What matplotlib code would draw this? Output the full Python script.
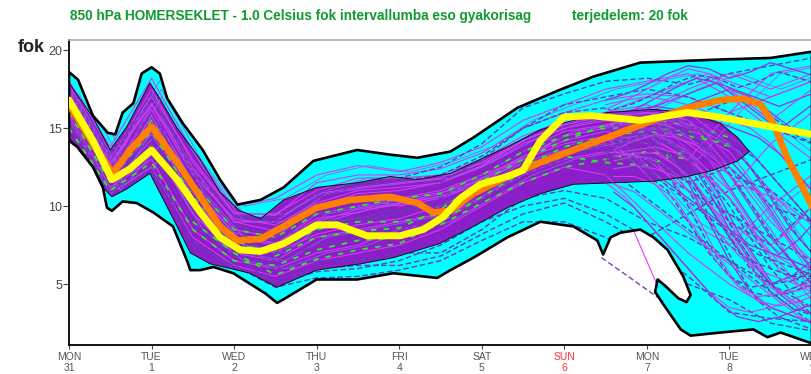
import numpy as np
import matplotlib
matplotlib.use("Agg")
import matplotlib.pyplot as plt
from matplotlib.patches import Polygon

# --- ensemble envelope (outer range of all members) ---
env_upper_day = [0.0, 0.11, 0.29, 0.47, 0.56, 0.65, 0.78, 0.88, 1.0, 1.1, 1.19, 1.38, 1.62,
                 1.83, 2.04, 2.32, 2.6, 2.96, 3.49, 3.89, 4.22, 4.62, 4.9, 5.43, 5.92,
                 6.35, 6.92, 7.89, 8.5, 9.0]
env_upper_val = [18.6, 18.1, 15.8, 14.7, 14.6, 16.0, 16.6, 18.5, 18.9, 18.5, 16.9, 15.3, 13.6,
                 11.7, 10.1, 10.4, 11.2, 12.9, 13.6, 13.3, 13.1, 13.5, 14.4, 16.3, 17.4,
                 18.3, 19.2, 19.4, 19.5, 19.9]
env_lower_day = [0.0, 0.1, 0.29, 0.41, 0.46, 0.52, 0.65, 0.82, 1.02, 1.26, 1.43, 1.47, 1.59,
                 1.75, 1.99, 2.23, 2.38, 2.52, 2.59, 3.0, 3.49, 3.93, 4.46, 4.62, 4.9,
                 5.31, 5.71, 6.11, 6.4, 6.47, 6.56, 6.68, 6.92, 7.08, 7.25, 7.44, 7.53,
                 7.48, 7.38, 7.22, 7.13, 7.1, 7.2, 7.41, 7.53, 7.89, 8.29, 8.46, 8.62, 9.0]
env_lower_val = [14.2, 13.8, 12.5, 11.2, 9.9, 9.7, 10.3, 10.2, 9.6, 8.7, 6.5, 5.9, 5.9,
                 6.1, 5.7, 4.9, 4.4, 3.8, 4.0, 5.3, 5.3, 5.7, 5.4, 5.9, 6.7,
                 8.0, 9.0, 8.7, 7.8, 6.9, 8.0, 8.3, 8.5, 8.0, 7.2, 5.5, 4.3,
                 3.85, 4.1, 4.9, 5.3, 4.5, 3.7, 2.1, 1.7, 1.9, 2.1, 1.6, 1.9, 1.2]

# --- dense core of the ensemble ---
core_upper_day = [0.0, 0.29, 0.5, 0.7, 0.98, 1.1, 1.31, 1.59, 1.83, 2.07, 2.32, 2.6, 3.0,
                  3.49, 3.89, 4.22, 4.62, 4.9, 5.31, 5.71, 6.11, 6.52, 7.08, 7.49, 7.89,
                  8.1, 8.24]
core_upper_val = [17.9, 15.7, 13.6, 15.1, 17.9, 16.9, 15.0, 13.0, 10.9, 9.7, 9.2, 10.4, 11.2,
                  11.5, 11.9, 11.7, 12.1, 12.8, 13.8, 14.9, 15.5, 16.0, 16.2, 16.0, 15.3,
                  14.4, 13.5]
core_lower_day = [0.0, 0.29, 0.41, 0.52, 0.7, 0.98, 1.31, 1.47, 1.71, 2.04, 2.19, 2.52, 3.0,
                  3.53, 3.93, 4.49, 4.9, 5.31, 5.71, 6.11, 6.6, 7.08, 7.49, 7.8, 8.1]
core_lower_val = [14.4, 12.5, 11.2, 10.6, 11.1, 12.1, 8.7, 7.0, 6.3, 5.9, 5.7, 4.8, 5.9,
                  6.3, 6.7, 7.6, 8.7, 9.9, 10.8, 11.4, 11.5, 11.6, 11.9, 12.3, 12.9]

# --- control (orange) and deterministic (yellow) runs ---
ctrl_day = [0.0, 0.29, 0.53, 0.74, 1.0, 1.31, 1.59, 1.83, 2.04, 2.32, 2.6, 3.0, 3.41, 3.89,
            4.22, 4.41, 4.62, 4.9, 5.31, 5.71, 6.11, 6.52, 6.92, 7.49, 7.89, 8.17, 8.38,
            8.53, 8.7, 8.86, 9.0]
ctrl_val = [16.5, 14.0, 12.1, 13.6, 15.1, 12.8, 10.6, 8.7, 7.8, 7.9, 8.7, 9.9, 10.4, 10.6,
            10.2, 9.6, 9.7, 10.8, 11.9, 12.8, 13.6, 14.4, 15.2, 16.3, 16.8, 16.9, 16.5,
            15.3, 13.1, 11.5, 10.0]
det_day = [0.0, 0.29, 0.52, 0.74, 1.0, 1.31, 1.59, 1.83, 2.07, 2.32, 2.6, 3.0, 3.25, 3.61,
           4.01, 4.29, 4.53, 4.74, 4.98, 5.31, 5.5, 5.71, 5.99, 6.32, 6.92, 7.49, 7.89,
           8.29, 8.7, 9.0]
det_val = [16.8, 14.2, 11.7, 12.4, 13.6, 11.7, 9.6, 8.0, 7.2, 7.1, 7.6, 8.8, 8.8, 8.1,
           8.1, 8.5, 9.3, 10.5, 11.4, 11.9, 12.3, 14.2, 15.7, 15.8, 15.5, 16.0, 15.7,
           15.3, 14.9, 14.6]

# --- individual members, half-day steps ---
member_day = [0.0, 0.5, 1.0, 1.5, 2.0, 2.5, 3.0, 3.5, 4.0, 4.5, 5.0, 5.5, 6.0, 6.5, 7.0,
              7.5, 8.0, 8.5, 9.0]
solid_members = [
    [17.2, 12.2, 17.0, 12.5, 9.0, 9.0, 10.8, 11.2, 11.5, 11.8, 12.8, 14.2, 15.2, 15.8, 16.0, 15.0, 13.5, 10.0, 6.0],
    [16.5, 11.5, 15.8, 11.0, 8.0, 7.5, 9.5, 10.0, 10.5, 11.0, 12.0, 13.5, 14.8, 15.2, 15.5, 14.0, 12.0, 8.5, 4.5],
    [15.5, 11.0, 14.0, 9.5, 7.0, 6.5, 8.0, 8.5, 9.0, 9.5, 11.0, 12.5, 13.5, 14.0, 14.5, 13.0, 16.0, 18.5, 19.0],
    [17.8, 13.0, 17.5, 12.8, 9.5, 9.5, 11.0, 11.8, 11.8, 12.0, 13.0, 14.5, 15.5, 16.0, 16.2, 17.5, 18.5, 17.5, 18.5],
    [16.0, 11.2, 13.0, 8.5, 6.5, 6.0, 7.0, 7.5, 8.5, 9.0, 10.5, 12.0, 13.0, 13.5, 13.0, 11.0, 9.0, 7.0, 5.5],
    [18.0, 13.8, 18.2, 13.5, 10.0, 10.5, 12.0, 12.6, 12.2, 12.8, 13.8, 15.5, 16.5, 17.5, 18.0, 18.5, 17.0, 15.0, 13.0],
    [16.8, 12.0, 15.0, 10.5, 7.5, 7.0, 9.0, 9.8, 10.2, 10.8, 12.0, 13.0, 14.0, 14.5, 12.0, 9.0, 7.5, 10.0, 12.0],
    [17.0, 11.8, 16.2, 11.5, 8.5, 8.0, 10.0, 10.5, 10.0, 10.5, 11.5, 13.0, 14.5, 15.0, 15.5, 16.0, 14.0, 11.0, 8.0],
    [15.8, 10.8, 12.5, 8.0, 6.2, 5.5, 6.5, 7.0, 7.5, 8.5, 10.0, 11.5, 12.5, 12.0, 9.5, 7.0, 5.0, 3.5, 2.5],
    [17.5, 12.8, 16.5, 12.0, 9.2, 8.8, 10.2, 11.0, 11.2, 11.5, 12.5, 14.0, 15.0, 15.5, 15.0, 13.5, 11.0, 14.0, 16.0],
    [16.8, 11.6, 15.5, 11.2, 8.3, 7.6, 9.2, 9.6, 10.2, 10.6, 11.8, 13.2, 14.2, 14.8, 14.0, 12.0, 8.5, 5.0, 3.0],
    [17.3, 12.6, 16.6, 12.3, 9.0, 8.4, 10.0, 10.8, 11.0, 11.5, 12.6, 14.2, 15.3, 16.0, 16.5, 15.5, 12.5, 9.0, 6.5],
    [16.2, 11.9, 14.6, 10.8, 8.0, 7.0, 8.2, 8.8, 9.2, 10.0, 11.2, 12.8, 13.6, 14.2, 14.6, 13.0, 10.5, 7.0, 4.0],
    [17.6, 12.4, 17.2, 13.0, 9.6, 9.4, 11.5, 12.0, 12.0, 12.4, 13.4, 15.0, 16.0, 16.8, 17.2, 17.0, 16.0, 17.0, 18.0],
]
dashed_members = [
    [15.2, 10.8, 12.2, 7.5, 6.2, 4.8, 5.4, 5.5, 5.9, 6.5, 7.8, 9.0, 9.0, 8.0, 6.5, 5.0, 4.0, 2.5, 2.0],
    [16.0, 11.5, 14.5, 10.0, 7.0, 6.0, 6.5, 6.5, 7.0, 7.0, 8.5, 10.5, 11.0, 10.5, 9.0, 8.0, 6.5, 5.0, 3.5],
    [17.0, 12.5, 16.0, 12.0, 8.8, 8.0, 9.5, 10.0, 10.5, 11.5, 13.0, 15.0, 16.5, 17.0, 17.5, 17.0, 16.0, 15.0, 14.0],
    [16.5, 11.8, 15.5, 11.0, 8.0, 7.0, 8.5, 9.0, 9.5, 10.5, 12.0, 13.5, 14.5, 13.5, 12.5, 11.0, 9.5, 8.0, 6.5],
    [17.6, 13.2, 17.2, 12.2, 9.4, 9.2, 10.8, 11.5, 11.8, 12.5, 14.0, 16.3, 17.2, 18.0, 18.2, 17.8, 18.5, 19.0, 19.5],
    [15.6, 11.0, 13.5, 9.0, 6.8, 5.0, 5.8, 6.0, 6.5, 7.5, 9.0, 10.0, 10.5, 9.5, 8.0, 9.5, 11.0, 12.0, 13.0],
    [16.2, 11.4, 14.0, 9.8, 7.2, 6.5, 7.5, 8.0, 8.5, 9.0, 10.5, 12.0, 13.0, 14.0, 14.5, 13.5, 10.0, 6.0, 3.0],
    [16.8, 12.2, 15.2, 10.8, 8.2, 7.8, 9.0, 9.2, 9.8, 10.2, 11.2, 12.5, 13.8, 14.5, 13.0, 11.5, 12.5, 10.0, 9.0],
    [16.4, 11.7, 14.8, 10.5, 7.8, 7.2, 8.8, 9.2, 9.5, 10.0, 11.0, 12.8, 13.8, 14.5, 14.0, 12.5, 9.0, 7.5, 10.0],
    [17.4, 12.9, 16.9, 12.6, 9.3, 9.0, 10.5, 11.3, 11.6, 12.0, 13.2, 15.0, 16.0, 16.3, 15.0, 12.0, 8.0, 4.5, 2.5],
    [15.4, 10.9, 12.6, 7.8, 6.0, 5.2, 6.0, 6.2, 6.2, 6.8, 8.2, 9.5, 10.2, 9.0, 7.5, 5.5, 3.2, 2.8, 2.6],
]
green_members = [
    [16.0, 11.5, 13.8, 10.0, 7.5, 7.2, 8.5, 9.0, 9.0, 9.5, 11.0, 12.5, 13.8, 14.5, 14.8, 14.5, 14.0, None, None],
    [17.0, 12.0, 15.5, 11.5, 8.5, 8.0, 9.5, 10.0, 10.5, 10.8, 12.0, 13.5, 14.5, 15.0, 15.0, 14.8, 13.8, None, None],
    [15.0, 11.0, 12.8, 8.5, 6.5, 6.2, 7.2, 7.8, 8.0, 8.8, 10.2, 11.5, 12.5, 13.0, 13.5, 13.0, None, None, None],
    [16.6, 11.8, 14.8, 10.6, 7.8, 6.8, 8.0, 8.4, 8.6, 9.8, 11.6, 13.0, 14.2, 15.2, 15.6, 15.2, 14.4, None, None],
    [None, None, None, 9.0, 7.0, 5.6, 6.6, 7.2, 7.6, 9.0, 10.6, 12.2, 13.2, 12.8, 12.6, 13.6, None, None, None],
]

# --- late-period members, quarter-day steps ---
tail_day = [6.5, 6.75, 7.0, 7.25, 7.5, 7.75, 8.0, 8.25, 8.5, 8.75, 9.0]
tail_members = [
    [14.5, 14.8, 14.6, 13.5, 11.5, 9.0, 6.5, 4.5, 3.5, 3.0, 2.5],
    [13.5, 13.8, 13.5, 12.0, 10.0, 7.5, 5.5, 4.5, 4.2, 4.5, 5.0],
    [15.2, 15.5, 15.6, 15.0, 13.5, 11.5, 9.0, 7.0, 5.0, 4.0, 3.5],
    [15.8, 16.0, 16.0, 15.8, 15.0, 13.8, 12.0, 10.0, 8.0, 6.5, 5.0],
    [12.5, 12.5, 12.0, 11.0, 9.0, 7.0, 5.5, 4.8, 5.0, 5.5, 6.0],
    [16.0, 16.5, 17.0, 17.5, 18.0, 18.5, 18.0, 17.5, 17.0, 17.5, 18.0],
    [14.5, 15.0, 15.5, 16.0, 16.5, 17.0, 17.5, 17.0, 16.0, 15.0, 14.5],
    [14.0, 14.2, 14.4, 14.0, 13.2, 12.0, 10.5, 8.5, 6.5, 5.5, 4.8],
    [15.2, 15.4, 15.5, 15.2, 14.5, 13.0, 11.0, 9.0, 7.5, 8.5, 10.0],
    [14.8, 15.0, 15.0, 14.5, 13.0, 11.0, 8.5, 6.5, 5.0, 5.5, 6.5],
    [13.8, 14.0, 14.0, 13.2, 12.0, 10.0, 8.0, 6.0, 5.0, 5.2, 5.8],
    [15.5, 15.8, 16.0, 15.8, 15.5, 14.5, 13.0, 11.5, 9.5, 7.5, 6.0],
    [15.8, 16.0, 15.8, 15.5, 15.2, 14.8, 14.0, 12.5, 10.5, 8.5, 7.0],
    [14.2, 14.8, 15.2, 15.0, 14.5, 13.5, 12.0, 11.5, 11.0, 10.0, 9.0],
    [16.2, 16.8, 17.5, 18.2, 18.8, 18.5, 17.5, 16.5, 15.5, 16.5, 17.5],
    [15.0, 15.2, 15.4, 15.5, 15.5, 15.2, 14.5, 13.5, 12.0, 10.5, 9.0],
    [13.0, 13.2, 13.0, 12.5, 11.0, 9.0, 7.5, 6.5, 6.0, 5.5, 5.5],
    [16.5, 16.8, 17.0, 16.8, 16.5, 16.0, 15.5, 15.0, 14.0, 12.5, 11.0],
    [14.0, 13.5, 12.5, 11.5, 10.5, 9.5, 8.5, 7.5, 7.0, 6.5, 6.0],
    [12.0, 11.5, 10.5, 9.5, 8.5, 7.5, 6.5, 5.5, 4.5, 3.5, 3.0],
    [11.5, 10.5, 9.0, 7.5, 6.0, 4.5, 3.5, 3.2, 3.5, 4.0, 4.5],
    [16.8, 17.2, 17.8, 18.5, 19.0, 18.8, 18.2, 18.6, 19.2, 18.8, 18.4],
]

# members that leave the smoothed envelope south of MON 7
stray_day = [6.45, 7.2]
stray_dashed = [6.7, 3.9]
stray_solid_day = [6.85, 7.12]
stray_solid = [8.3, 5.0]

tick_days = [0, 1, 2, 3, 4, 5, 6, 7, 8, 9]
tick_names = ["MON", "TUE", "WED", "THU", "FRI", "SAT", "SUN", "MON", "TUE", "WED"]
tick_dates = ["31", "1", "2", "3", "4", "5", "6", "7", "8", "9"]

W, H = 812, 374
fig = plt.figure(figsize=(W / 100, H / 100), dpi=100)
ax = fig.add_axes([69 / W, 29 / H, (W - 69) / W, 305 / H])
ax.set_xlim(0, 9)
ax.set_ylim(1.1, 20.65)

# envelope polygon
env_pts = list(zip(env_upper_day, env_upper_val)) + \
    list(zip(env_lower_day, env_lower_val))[::-1]
env_fill = Polygon(env_pts, closed=True, facecolor="#00ffff", edgecolor="none", zorder=1)
ax.add_patch(env_fill)

core_pts = list(zip(core_upper_day, core_upper_val)) + \
    list(zip(core_lower_day, core_lower_val))[::-1]
ax.add_patch(Polygon(core_pts, closed=True, facecolor="#8a1ec8", edgecolor="none", zorder=2))


def as_array(vals):
    return np.array([np.nan if v is None else v for v in vals], dtype=float)


md = np.array(member_day)
for m in solid_members:
    ln, = ax.plot(md, m, color="#d23cf0", lw=0.8, zorder=3)
    ln.set_clip_path(env_fill)
for m in solid_members[:7]:
    ln, = ax.plot(md + 0.12, m, color="#9a5cf5", lw=0.6, zorder=3)
    ln.set_clip_path(env_fill)
for m in dashed_members:
    ln, = ax.plot(md, m, color="#6a3cb8", lw=1.0, ls=(0, (4, 2)), zorder=3)
    ln.set_clip_path(env_fill)
for m in green_members:
    ln, = ax.plot(md, as_array(m), color="#30e830", lw=1.3, ls=(0, (3, 4)), zorder=3)
    ln.set_clip_path(env_fill)

tail_styles = [dict(color="#9a2fe0", lw=0.9),
               dict(color="#6a3cb8", lw=1.0, ls=(0, (4, 2))),
               dict(color="#cc40f0", lw=0.8)]
for i, m in enumerate(tail_members):
    ln, = ax.plot(tail_day, m, zorder=3, **tail_styles[i % 3])
    ln.set_clip_path(env_fill)
    ln, = ax.plot(np.array(tail_day) + 0.1, np.array(m) - 0.6, zorder=3,
                  **tail_styles[(i + 1) % 3])
    ln.set_clip_path(env_fill)

ax.plot(stray_day, stray_dashed, color="#7a45c0", lw=1.0, ls=(0, (4, 2)), zorder=3)
ax.plot(stray_solid_day, stray_solid, color="#e040f0", lw=0.8, zorder=3)

# outlines
ax.add_patch(Polygon(core_pts, closed=True, facecolor="none", edgecolor="#111111",
                     lw=0.7, zorder=4))
ax.add_patch(Polygon(env_pts, closed=True, facecolor="none", edgecolor="black",
                     lw=1.9, joinstyle="round", zorder=4))

ax.plot(ctrl_day, ctrl_val, color="#ff8000", lw=4.8, solid_capstyle="round",
        solid_joinstyle="round", zorder=5)
ax.plot(det_day, det_val, color="#ffff00", lw=5.0, solid_capstyle="round",
        solid_joinstyle="round", zorder=6)

# axes styling
for s in ("left", "bottom"):
    ax.spines[s].set_color("black")
    ax.spines[s].set_linewidth(1.3)
ax.spines["top"].set_color("#aaaaaa")
ax.spines["top"].set_linewidth(1.2)
ax.spines["right"].set_color("#aaaaaa")
ax.spines["right"].set_linewidth(1.0)

ax.set_yticks([5, 10, 15, 20])
ax.set_yticklabels(["5", "10", "15", "20"])
ax.tick_params(axis="y", direction="out", length=4, width=0.8, color="#444444",
               labelsize=9, labelcolor="#444444", pad=1)
for lab in ax.get_yticklabels():
    lab.set_family("Liberation Sans")

ax.set_xticks(tick_days)
ax.set_xticklabels([f"{n}\n{d}" for n, d in zip(tick_names, tick_dates)],
                   family="Liberation Sans", fontsize=7.5, linespacing=1.1)
ax.tick_params(axis="x", direction="out", length=3, width=0.8, color="#444444",
               labelcolor="#555555", pad=2)
ax.get_xticklabels()[6].set_color("#ff3030")

fig.text(18 / W, 1 - 48 / H, "fok", fontsize=13, fontweight="bold",
         family="Liberation Sans", color="#222222", va="center", ha="left")

title_kw = dict(fontsize=9.8, color="#109a30", family="Liberation Sans",
                fontweight="bold", va="center", ha="left")
fig.text(70 / W, 1 - 16 / H,
         "850 hPa HOMERSEKLET - 1.0 Celsius fok intervallumba eso gyakorisag", **title_kw)
fig.text(572 / W, 1 - 16 / H, "terjedelem: 20 fok", **title_kw)

fig.savefig("out.png", dpi=100)
